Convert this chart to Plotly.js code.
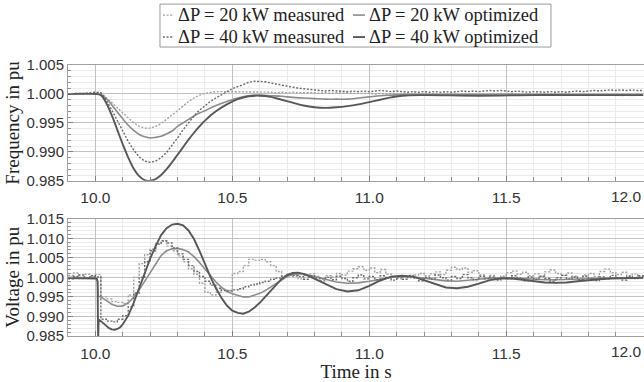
<!DOCTYPE html>
<html>
<head>
<meta charset="utf-8">
<script src="https://cdn.plot.ly/plotly-3.0.1.min.js"></script>
<style>html,body{margin:0;padding:0;background:#fff;}</style>
</head>
<body>
<div id="chart" style="width:644px;height:382px;"></div>
<script>
// ---------- DATA ----------
// measured sample times (s)
const tM = [9.90,9.92,9.94,9.96,9.98,
10.00,10.02,10.04,10.06,10.08,10.10,10.12,10.14,10.16,10.18,
10.20,10.22,10.24,10.26,10.28,10.30,10.32,10.34,10.36,10.38,
10.40,10.42,10.44,10.46,10.48,10.50,10.52,10.54,10.56,10.58,
10.60,10.62,10.64,10.66,10.68,10.70,10.72,10.74,10.76,10.78,
10.80,10.82,10.84,10.86,10.88,10.90,10.92,10.94,10.96,10.98,
11.00,11.02,11.04,11.06,11.08,11.10,11.12,11.14,11.16,11.18,
11.20,11.22,11.24,11.26,11.28,11.30,11.32,11.34,11.36,11.38,
11.40,11.42,11.44,11.46,11.48,11.50,11.52,11.54,11.56,11.58,
11.60,11.62,11.64,11.66,11.68,11.70,11.72,11.74,11.76,11.78,
11.80,11.82,11.84,11.86,11.88,11.90,11.92,11.94,11.96,11.98,
12.00];

// frequency, measured, dP = 20 kW
const freqMeas20 = [1.0000,1.0001,1.0000,1.0001,1.0002,1.0003,
1.0002,0.9994,0.9985,0.9976,0.9967,0.9958,0.9950,0.9944,0.9941,0.9941,
0.9944,0.9949,0.9956,0.9963,0.9971,0.9979,0.9987,0.9993,0.9998,1.0001,
1.0003,1.0004,1.0004,1.0004,1.0004,
1.0004,1.0003,1.0004,1.0003,1.0003,1.0004,1.0003,1.0002,1.0003,1.0002,
1.0003,1.0002,1.0002,1.0003,1.0002,1.0001,1.0002,1.0001,1.0002,1.0001,
1.0002,1.0001,1.0001,1.0002,1.0001,1.0000,1.0001,1.0000,1.0001,1.0000,
1.0001,1.0000,1.0000,1.0001,1.0000,0.9999,1.0000,0.9999,1.0000,1.0000,
0.9999,1.0000,0.9999,1.0000,0.9999,1.0000,0.9999,1.0000,1.0001,1.0000,
1.0001,1.0000,0.9999,1.0000,0.9999,1.0000,0.9999,0.9999,1.0000,0.9999,
1.0000,0.9999,0.9998,0.9999,0.9998,0.9999,0.9998,0.9998,0.9999,0.9998,
0.9997,0.9998,0.9997,0.9998,0.9998];

// frequency, measured, dP = 40 kW
const freqMeas40 = [1.0000,1.0001,1.0001,1.0000,1.0002,1.0003,
1.0002,0.9989,0.9972,0.9954,0.9936,0.9918,0.9903,0.9891,0.9884,0.9882,
0.9884,0.9890,0.9899,0.9911,0.9924,0.9938,0.9951,0.9962,0.9972,0.9980,
0.9987,0.9993,0.9999,1.0004,1.0009,1.0013,1.0017,1.0020,1.0022,1.0022,
1.0021,1.0019,1.0017,1.0015,1.0013,1.0011,1.0010,1.0009,1.0008,1.0007,
1.0006,1.0005,1.0006,1.0005,1.0005,1.0004,1.0005,1.0004,1.0005,1.0004,
1.0005,1.0006,1.0005,1.0004,1.0005,1.0004,1.0003,1.0004,1.0003,1.0004,
1.0003,1.0004,1.0003,1.0004,1.0003,1.0004,1.0005,1.0004,1.0005,1.0004,
1.0005,1.0006,1.0005,1.0006,1.0005,1.0004,1.0005,1.0004,1.0003,1.0004,
1.0003,1.0003,1.0004,1.0003,1.0004,1.0003,1.0004,1.0005,1.0004,1.0005,
1.0006,1.0005,1.0006,1.0007,1.0006,1.0007,1.0006,1.0007,1.0006,1.0006];

// voltage, measured, dP = 20 kW
const voltMeas20 = [1.0005,1.0011,0.9997,1.0008,1.0002,1.0007,
0.9950,0.9945,0.9938,0.9936,0.9933,0.9955,1.0000,1.0035,1.0058,1.0072,
1.0086,1.0094,1.0080,1.0068,1.0055,1.0040,1.0022,1.0008,0.9985,0.9962,
0.9955,0.9962,0.9970,0.9966,1.0010,1.0015,1.0030,1.0046,1.0044,1.0046,
1.0040,1.0030,1.0015,1.0000,1.0008,1.0003,
0.9996,1.0005,1.0009,1.0002,0.9995,1.0004,1.0001,1.0010,1.0006,1.0016,
1.0022,1.0027,1.0018,1.0024,1.0012,1.0020,1.0008,1.0002,0.9997,1.0004,
0.9999,1.0006,1.0010,1.0004,1.0009,1.0014,1.0007,1.0018,1.0026,1.0020,
1.0024,1.0013,1.0017,1.0006,1.0000,1.0005,0.9998,1.0003,1.0012,1.0016,
1.0008,1.0013,1.0004,1.0009,1.0002,1.0014,1.0019,1.0010,1.0005,1.0011,
1.0003,0.9998,1.0006,1.0010,1.0002,1.0015,1.0021,1.0012,1.0007,1.0013,
1.0004,1.0009,1.0001,1.0006];

// voltage, measured, dP = 40 kW
const voltMeas40 = [0.9996,1.0002,1.0006,0.9998,1.0004,1.0001,
0.9893,0.9888,0.9886,0.9893,0.9902,0.9925,0.9960,1.0000,1.0040,1.0068,
1.0085,1.0093,1.0088,1.0075,1.0060,1.0046,1.0030,1.0015,1.0002,0.9990,
0.9980,0.9972,0.9966,0.9965,0.9968,0.9971,0.9976,0.9980,0.9983,0.9987,
0.9990,0.9995,0.9998,1.0003,1.0007,1.0005,
1.0002,0.9995,1.0004,0.9998,0.9991,1.0000,0.9994,1.0003,0.9997,0.9990,
0.9999,1.0006,0.9996,1.0002,0.9994,1.0004,1.0000,0.9993,1.0001,0.9995,
1.0005,0.9998,0.9991,1.0000,0.9996,1.0006,0.9999,0.9993,1.0002,0.9997,
1.0007,0.9999,0.9994,1.0003,0.9996,1.0001,0.9993,1.0000,0.9996,1.0004,
0.9998,0.9991,1.0001,0.9995,1.0003,0.9997,0.9990,0.9999,1.0005,0.9996,
1.0001,0.9994,1.0003,0.9998,0.9992,1.0001,0.9996,1.0005,0.9999,0.9993,
1.0002,0.9997,1.0004,0.9999];

// optimized model, frequency
const tF = [9.90,10.00,
10.02,10.04,10.06,10.08,10.10,10.12,10.14,10.16,10.18,10.20,
10.22,10.24,10.26,10.28,10.30,10.32,10.34,10.36,10.38,10.40,
10.44,10.48,10.52,10.56,10.60,10.64,10.68,10.72,10.76,10.80,
10.84,10.88,10.92,10.96,11.00,11.04,11.08,11.12,
11.20,11.40,11.60,11.80,12.00];
const freqOpt20 = [1.0000,1.0000,
0.9999,0.9992,0.9981,0.9969,0.9957,0.9946,0.9937,0.9930,0.9926,0.9924,
0.9925,0.9927,0.9931,0.9936,0.9944,0.9950,0.9956,0.9962,0.9967,0.9971,
0.9980,0.9987,0.9993,0.9997,0.9998,0.9997,0.9996,0.9994,0.9993,0.9992,
0.9991,0.9991,0.9991,0.9993,0.9995,0.9997,0.9998,0.9999,
0.9999,0.9999,0.9999,0.9999,0.9999];
const freqOpt40 = [1.0000,1.0000,
0.9998,0.9984,0.9963,0.9938,0.9913,0.9890,0.9871,0.9858,0.9851,0.9850,
0.9853,0.9860,0.9870,0.9882,0.9895,0.9908,0.9921,0.9933,0.9944,0.9954,
0.9970,0.9982,0.9991,0.9996,0.9997,0.9995,0.9990,0.9985,0.9980,0.9977,
0.9976,0.9977,0.9979,0.9982,0.9986,0.9990,0.9994,0.9997,
0.9998,0.9997,0.9998,0.9998,0.9998];

// optimized model, voltage
const tV = [9.90,9.95,10.00,10.005,10.008,10.010,10.012,
10.02,10.03,10.04,10.05,10.06,10.07,10.08,10.09,10.10,
10.12,10.14,10.16,10.18,10.20,10.22,10.24,10.26,10.28,10.30,
10.32,10.34,10.36,10.38,10.40,10.42,10.44,10.46,10.48,10.50,
10.52,10.54,10.56,10.58,10.60,10.62,10.64,10.66,10.68,10.70,
10.72,10.74,10.76,10.78,10.80,
10.84,10.88,10.92,10.96,11.00,11.04,11.08,11.12,11.16,11.20,
11.24,11.28,11.32,11.36,11.40,11.44,11.48,11.52,11.56,11.60,
11.64,11.68,11.72,11.76,11.80,11.84,11.88,11.92,11.96,12.00];
const voltOpt20 = [1.0000,1.0000,0.9999,0.9998,0.9985,0.9953,0.9951,
0.9950,0.9946,0.9941,0.9936,0.9931,0.9928,0.9926,0.9926,0.9927,
0.9935,0.9949,0.9968,0.9990,1.0015,1.0037,1.0056,1.0068,1.0073,1.0074,
1.0071,1.0065,1.0053,1.0038,1.0021,1.0004,0.9988,0.9975,0.9964,0.9958,
0.9953,0.9950,0.9950,0.9954,0.9959,0.9966,0.9975,0.9985,0.9994,1.0002,
1.0007,1.0009,1.0009,1.0006,1.0002,
0.9995,0.9988,0.9985,0.9986,0.9990,0.9995,1.0000,1.0002,1.0001,0.9998,
0.9994,0.9991,0.9990,0.9992,0.9995,0.9998,0.9999,0.9999,0.9997,0.9995,
0.9994,0.9994,0.9995,0.9996,0.9997,0.9998,0.9998,0.9999,0.9999,0.9999];
const voltOpt40 = [0.9998,0.9998,0.9997,0.9996,0.9990,0.9840,0.9892,
0.9888,0.9882,0.9876,0.9870,0.9867,0.9866,0.9868,0.9872,0.9880,
0.9902,0.9935,0.9973,1.0012,1.0048,1.0080,1.0108,1.0126,1.0135,1.0137,
1.0133,1.0120,1.0098,1.0068,1.0034,1.0001,0.9972,0.9948,0.9928,0.9915,
0.9909,0.9907,0.9912,0.9922,0.9935,0.9950,0.9966,0.9982,0.9996,1.0006,
1.0011,1.0012,1.0009,1.0003,0.9996,
0.9982,0.9970,0.9964,0.9967,0.9978,0.9992,1.0002,1.0004,1.0002,0.9992,
0.9982,0.9974,0.9972,0.9976,0.9984,0.9993,0.9997,0.9997,0.9994,0.9990,
0.9987,0.9986,0.9987,0.9990,0.9993,0.9995,0.9997,0.9998,0.9998,0.9999];

const seriesNames = ['\u0394P = 20 kW measured','\u0394P = 20 kW optimized',
                     '\u0394P = 40 kW measured','\u0394P = 40 kW optimized'];
const xTickVals = [10.0, 10.5, 11.0, 11.5];
const xLastTick = 12.0;   // drawn right-aligned so it stays inside the page

// ---------- STYLE ----------
const cMeas20 = '#a2a2a2', cOpt20 = '#8c8c8c', cMeas40 = '#6a6a6a', cOpt40 = '#585858';
const styles = [
  {color: cMeas20, dash: '2px,1.6px', width: 1.4},
  {color: cOpt20, dash: 'solid', width: 1.6},
  {color: cMeas40, dash: '2px,1.6px', width: 1.4},
  {color: cOpt40, dash: 'solid', width: 1.9}
];
const serif = '"Liberation Serif", "Times New Roman", Times, serif';
const sans = '"Liberation Sans", Arial, Helvetica, sans-serif';

function tr(x, y, k, xa, ya, shape) {
  return {x: x, y: y, name: seriesNames[k], type: 'scatter', mode: 'lines',
    line: {color: styles[k].color, dash: styles[k].dash, width: styles[k].width, shape: shape},
    xaxis: xa, yaxis: ya, showlegend: false, hoverinfo: 'skip'};
}

const data = [
  tr(tM, freqMeas20, 0, 'x', 'y', 'linear'),
  tr(tF, freqOpt20, 1, 'x', 'y', 'spline'),
  tr(tM, freqMeas40, 2, 'x', 'y', 'linear'),
  tr(tF, freqOpt40, 3, 'x', 'y', 'spline'),
  tr(tM, voltMeas20, 0, 'x2', 'y2', 'hv'),
  tr(tV, voltOpt20, 1, 'x2', 'y2', 'linear'),
  tr(tM, voltMeas40, 2, 'x2', 'y2', 'hv'),
  tr(tV, voltOpt40, 3, 'x2', 'y2', 'linear')
];

const tickFontX = {family: sans, size: 15.5, color: '#333'};
function xAxis(extra) {
  return Object.assign({
    range: [9.9, 12.003], tickmode: 'array', tickvals: xTickVals, tickformat: '.1f',
    showgrid: true, gridcolor: '#c2c2c2', gridwidth: 1, zeroline: false,
    showline: true, mirror: true, linecolor: '#a0a0a0', linewidth: 1,
    ticks: 'inside', ticklen: 5, tickcolor: '#808080',
    minor: {dtick: 0.1, tick0: 10, showgrid: true, gridcolor: '#ebebeb', ticks: 'inside', ticklen: 4, tickcolor: '#909090'},
    tickfont: tickFontX,
    ticklabelstandoff: 3, fixedrange: true
  }, extra);
}
function yAxis(extra) {
  return Object.assign({
    tick0: 0.985, dtick: 0.005, tickformat: '.3f',
    showgrid: true, gridcolor: '#c2c2c2', gridwidth: 1, zeroline: false,
    showline: true, mirror: true, linecolor: '#a0a0a0', linewidth: 1,
    ticks: 'inside', ticklen: 5, tickcolor: '#808080',
    minor: {dtick: 0.001, tick0: 0.985, showgrid: true, gridcolor: '#ececec', ticks: 'inside', ticklen: 3, tickcolor: '#909090'},
    tickfont: {family: sans, size: 15, color: '#333'},
    fixedrange: true
  }, extra);
}

// hand-drawn legend box (two rows x two columns), in paper coordinates
const legRows = [1.1842, 1.1031];
const legSymX = [[0.1649, 0.1840], [0.4948, 0.5156]];
const legTextX = [0.1892, 0.5208];
const shapes = [{type: 'rect', xref: 'paper', yref: 'paper', x0: 0.1597, x1: 0.8385, y0: 1.0663, y1: 1.2247,
  line: {color: '#9a9a9a', width: 1}, fillcolor: '#ffffff', layer: 'above'}];
const annotations = [];
for (let k = 0; k < 4; k++) {
  const row = Math.floor(k / 2), col = k % 2;
  shapes.push({type: 'line', xref: 'paper', yref: 'paper', x0: legSymX[col][0], x1: legSymX[col][1],
    y0: legRows[row], y1: legRows[row], line: {color: styles[k].color, width: styles[k].width, dash: styles[k].dash}, layer: 'above'});
  annotations.push({xref: 'paper', yref: 'paper', x: legTextX[col], y: legRows[row], xanchor: 'left', yanchor: 'middle',
    text: seriesNames[k], showarrow: false, borderpad: 0, font: {family: serif, size: 18.5, color: '#222'}});
}
// last x tick label of each panel, right-aligned at the right edge
[['x', 0.5138], ['x2', -0.0571]].forEach(function (p) {
  annotations.push({xref: p[0], yref: 'paper', x: xLastTick, y: p[1], xanchor: 'right', yanchor: 'middle',
    text: xLastTick.toFixed(1), showarrow: false, borderpad: 0, font: tickFontX});
});

const layout = {
  width: 644, height: 382,
  margin: {l: 68, r: 0, t: 65, b: 45.5, pad: 0},
  paper_bgcolor: '#ffffff', plot_bgcolor: '#ffffff',
  font: {family: sans, size: 15, color: '#333'},
  showlegend: false,
  shapes: shapes,
  annotations: annotations,
  xaxis: xAxis({anchor: 'y'}),
  yaxis: yAxis({domain: [0.5727, 1], range: [0.985, 1.005], anchor: 'x',
    title: {text: 'Frequency in pu', font: {family: serif, size: 19, color: '#222'}, standoff: 1}}),
  xaxis2: xAxis({anchor: 'y2',
    title: {text: 'Time in s', font: {family: serif, size: 19, color: '#222'}, standoff: 2}}),
  yaxis2: yAxis({domain: [0, 0.4328], range: [0.985, 1.015], anchor: 'x2',
    title: {text: 'Voltage in pu', font: {family: serif, size: 19, color: '#222'}, standoff: 1}})
};

Plotly.newPlot('chart', data, layout, {displayModeBar: false, staticPlot: true});
</script>
</body>
</html>
